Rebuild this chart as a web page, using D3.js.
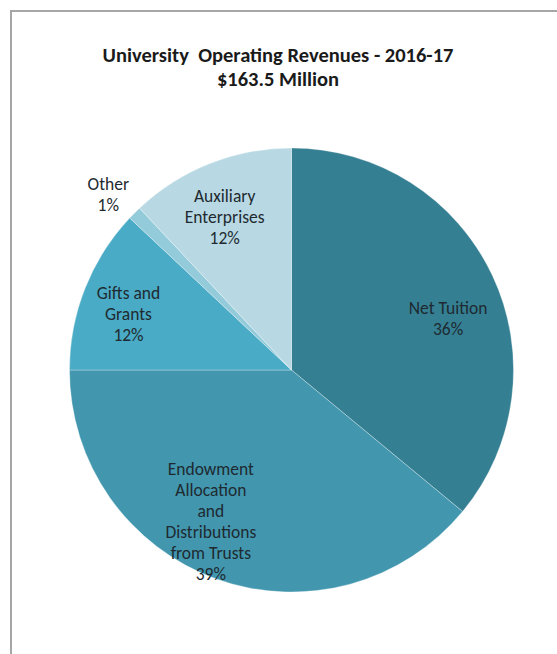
<!DOCTYPE html>
<html>
<head>
<meta charset="utf-8">
<script src="https://cdn.jsdelivr.net/npm/d3@7"></script>
<style>
  html, body { margin: 0; padding: 0; background: #fff; }
  svg { display: block; }
</style>
</head>
<body>
<svg id="chart" width="557" height="654"></svg>
<script>
// Revenue categories, listed clockwise from 12 o'clock
const categories = [
  ["Net Tuition"],
  ["Endowment", "Allocation", "and", "Distributions", "from Trusts"],
  ["Gifts and", "Grants"],
  ["Other"],
  ["Auxiliary", "Enterprises"]
];
const shares = [36, 39, 12, 1, 12];          // percent of operating revenues
const sliceColors = ["#357f93", "#4297af", "#4aabc6", "#93cbdb", "#b8d9e4"];
const titleLines = ["University  Operating Revenues - 2016-17", "$163.5 Million"];

// label placement: radius fraction and small nudges from the slice mid-angle
const labelLayout = [
  { r: 0.70, dx: 16,  dy: 15 },
  { r: 0.78, dx: -22, dy: -11.5 },
  { r: 0.78, dx: -2,  dy: 8 },
  { r: 1.18, dx: 2,   dy: 10 },
  { r: 0.72, dx: -8,  dy: -5 }
];

const svg = d3.select("#chart");
const W = 557, H = 654;
const cx = 291.5, cy = 370, R = 222;
const FONT = "Carlito, 'Liberation Sans', Arial, sans-serif";

// chart frame (left and top edges visible)
svg.append("path")
  .attr("d", `M11,${H} L11,11 L${W},11`)
  .attr("fill", "none")
  .attr("stroke", "#a6a6a6")
  .attr("stroke-width", 2);

// title
const title = svg.append("text")
  .attr("text-anchor", "middle")
  .attr("font-family", FONT)
  .attr("font-weight", "bold")
  .attr("font-size", 20.5)
  .attr("fill", "#1a1a1a");
titleLines.forEach((t, i) => {
  title.append("tspan")
    .attr("x", 278)
    .attr("y", 62 + i * 24)
    .attr("xml:space", "preserve")
    .style("white-space", "pre")
    .text(t);
});

const pie = d3.pie().sort(null).value(d => d)(shares);
const arc = d3.arc().innerRadius(0).outerRadius(R);

const g = svg.append("g").attr("transform", `translate(${cx},${cy})`);

g.selectAll("path.slice")
  .data(pie)
  .join("path")
  .attr("class", "slice")
  .attr("d", arc)
  .attr("fill", (d, i) => sliceColors[i])
  .attr("stroke", "#ffffff")
  .attr("stroke-width", 0.6)
  .attr("stroke-opacity", 0.5);

const lineH = 21;
pie.forEach((d, i) => {
  const lay = labelLayout[i];
  const mid = (d.startAngle + d.endAngle) / 2;
  const x = Math.sin(mid) * R * lay.r + lay.dx;
  const y = -Math.cos(mid) * R * lay.r + lay.dy;
  const lines = categories[i].concat([shares[i] + "%"]);
  const top = y - (lines.length - 1) * lineH / 2;
  const t = g.append("text")
    .attr("text-anchor", "middle")
    .attr("font-family", FONT)
    .attr("font-size", 17.5)
    .attr("fill", "#1e2a30");
  lines.forEach((ln, j) => {
    t.append("tspan")
      .attr("x", x)
      .attr("y", top + j * lineH)
      .attr("dy", "0.35em")
      .text(ln);
  });
});
</script>
</body>
</html>
